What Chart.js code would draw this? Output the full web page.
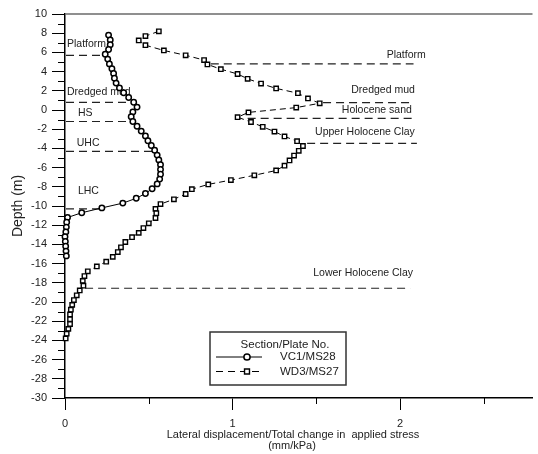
<!DOCTYPE html>
<html><head><meta charset="utf-8">
<script src="https://cdn.jsdelivr.net/npm/chart.js@4.4.0/dist/chart.umd.min.js"></script>
<style>html,body{margin:0;padding:0;background:#fff;overflow:hidden}canvas{display:block}</style>
</head><body>
<canvas id="c" width="538" height="454"></canvas>
<script>
// ---- data ----
const depthVC1 = [7.8,7.3,6.8,6.3,5.8,5.3,4.8,4.3,3.8,3.3,2.8,2.3,1.8,1.3,0.8,0.3,-0.2,-0.7,-1.2,-1.7,-2.2,-2.7,-3.2,-3.7,-4.2,-4.7,-5.2,-5.7,-6.2,-6.7,-7.2,-7.7,-8.2,-8.7,-9.2,-9.7,-10.2,-10.7,-11.2,-11.7,-12.2,-12.7,-13.2,-13.7,-14.2,-14.7,-15.2];
const dispVC1 = [0.26,0.27,0.27,0.26,0.24,0.255,0.265,0.28,0.29,0.295,0.305,0.325,0.35,0.38,0.41,0.43,0.405,0.395,0.405,0.43,0.455,0.48,0.495,0.515,0.535,0.55,0.56,0.57,0.57,0.57,0.565,0.55,0.52,0.48,0.425,0.345,0.22,0.10,0.015,0.01,0.008,0.005,0.0,0.002,0.004,0.006,0.008];
const depthWD3 = [8.2,7.7,7.25,6.75,6.2,5.7,5.2,4.75,4.25,3.75,3.25,2.75,2.25,1.75,1.2,0.7,0.25,-0.25,-0.75,-1.25,-1.75,-2.25,-2.75,-3.25,-3.75,-4.25,-4.75,-5.25,-5.8,-6.3,-6.8,-7.3,-7.75,-8.25,-8.75,-9.3,-9.8,-10.3,-10.75,-11.25,-11.8,-12.3,-12.8,-13.25,-13.75,-14.3,-14.8,-15.3,-15.8,-16.3,-16.8,-17.3,-17.8,-18.3,-18.8,-19.3,-19.8,-20.3,-20.8,-21.3,-21.8,-22.3,-22.8,-23.3,-23.8];
const dispWD3 = [0.56,0.48,0.44,0.48,0.59,0.72,0.83,0.85,0.93,1.03,1.09,1.17,1.26,1.39,1.45,1.52,1.38,1.095,1.03,1.11,1.18,1.25,1.31,1.385,1.42,1.395,1.367,1.34,1.31,1.26,1.13,0.99,0.855,0.757,0.72,0.65,0.57,0.54,0.545,0.54,0.50,0.468,0.44,0.40,0.36,0.334,0.315,0.285,0.246,0.19,0.136,0.116,0.106,0.11,0.088,0.07,0.053,0.043,0.035,0.03,0.03,0.03,0.02,0.01,0.004];
const seriesNames = ['VC1/MS28','WD3/MS27'];
const legendTitle = 'Section/Plate No.';

const yTicks = [-30,-28,-26,-24,-22,-20,-18,-16,-14,-12,-10,-8,-6,-4,-2,0,2,4,6,8,10];
const yMinorTicks = [-29,-27,-25,-23,-21,-19,-17,-15,-13,-11,-9,-7,-5,-3,-1,1,3,5,7,9];
const xTicks = [0,1,2];
const xMinorTicks = [0.5,1.5,2.5];

// soil layer boundaries (depth, x extent) and labels
const leftLayerDepth = [5.7,0.8,-1.2,-4.3,-10.3];
const leftLayerEnd = [0.24,0.41,0.40,0.55,0.21];
const leftLabels = ['Platform','Dredged mud','HS','UHC','LHC'];
const leftLabelDepth = [6.9,1.9,-0.3,-3.4,-8.4];
const leftLabelX = [0.012,0.012,0.077,0.07,0.077];

const rightLayerDepth = [4.8,0.76,-0.87,-3.47,-18.57];
const rightLayerStart = [0.87,1.54,1.09,1.445,0.12];
const rightLayerEnd = [2.08,2.07,2.07,2.1,2.06];
const rightLabels = ['Platform','Dredged mud','Holocene sand','Upper Holocene Clay','Lower Holocene Clay'];
const rightLabelDepth = [5.73,2.08,0.0,-2.26,-16.98];
const rightLabelX = [2.153,2.088,2.07,2.088,2.077];

const xTitle = ['Lateral displacement/Total change in  applied stress','(mm/kPa)'];
const yTitle = 'Depth (m)';

const FONT = '"Liberation Sans", Arial, Helvetica, sans-serif';

const pts = (xs, ys) => xs.map((v,i)=>({x:v, y:ys[i]}));

const annot = {
  id:'annot',
  beforeDatasetsDraw(chart){
    const {ctx, scales:{x,y}, chartArea:ca} = chart;
    ctx.save();
    // top frame line
    ctx.strokeStyle='#6a6a6a'; ctx.lineWidth=1.6;
    ctx.beginPath(); ctx.moveTo(ca.left, ca.top); ctx.lineTo(ca.right, ca.top); ctx.stroke();
    // minor ticks
    ctx.strokeStyle='#000'; ctx.lineWidth=1;
    yMinorTicks.forEach(v=>{const py=Math.round(y.getPixelForValue(v))+0.5; ctx.beginPath(); ctx.moveTo(ca.left-7,py); ctx.lineTo(ca.left,py); ctx.stroke();});
    xMinorTicks.forEach(v=>{const px=Math.round(x.getPixelForValue(v))+0.5; ctx.beginPath(); ctx.moveTo(px,ca.bottom); ctx.lineTo(px,ca.bottom+6); ctx.stroke();});
    // layer lines
    ctx.setLineDash([8,5]); ctx.strokeStyle='#222'; ctx.lineWidth=1.2;
    leftLayerDepth.forEach((d,i)=>{const py=y.getPixelForValue(d); ctx.beginPath(); ctx.moveTo(x.getPixelForValue(0)+1,py); ctx.lineTo(x.getPixelForValue(leftLayerEnd[i]),py); ctx.stroke();});
    rightLayerDepth.forEach((d,i)=>{const py=y.getPixelForValue(d); ctx.beginPath(); ctx.moveTo(x.getPixelForValue(rightLayerStart[i]),py); ctx.lineTo(x.getPixelForValue(rightLayerEnd[i]),py); ctx.stroke();});
    ctx.setLineDash([]);
    // labels
    ctx.font='10.5px '+FONT; ctx.fillStyle='#222'; ctx.textBaseline='middle';
    ctx.textAlign='left';
    leftLabels.forEach((t,i)=>ctx.fillText(t, x.getPixelForValue(leftLabelX[i]), y.getPixelForValue(leftLabelDepth[i])));
    ctx.textAlign='right';
    rightLabels.forEach((t,i)=>ctx.fillText(t, x.getPixelForValue(rightLabelX[i]), y.getPixelForValue(rightLabelDepth[i])));
    // axis titles
    ctx.textAlign='center';
    ctx.font='11px '+FONT;
    ctx.fillText(xTitle[0], 293, 435);
    ctx.fillText(xTitle[1], 292, 446);
    ctx.save();
    ctx.translate(18, (ca.top+ca.bottom)/2);
    ctx.rotate(-Math.PI/2);
    ctx.font='14px '+FONT;
    ctx.fillText(yTitle, 0, 0);
    ctx.restore();
    ctx.restore();
  },
  afterDraw(chart){
    const {ctx} = chart;
    ctx.save();
    const bx=210, by=332, bw=136, bh=53;
    ctx.fillStyle='#fff'; ctx.fillRect(bx,by,bw,bh);
    ctx.strokeStyle='#333'; ctx.lineWidth=1.5; ctx.strokeRect(bx,by,bw,bh);
    ctx.fillStyle='#222'; ctx.font='11.5px '+FONT; ctx.textBaseline='middle';
    ctx.textAlign='center'; ctx.fillText(legendTitle, 285, 345);
    const rows=[357,371.5];
    chart.data.datasets.forEach((ds,i)=>{
      const ry=rows[i];
      ctx.strokeStyle=ds.borderColor; ctx.lineWidth=ds.borderWidth;
      ctx.setLineDash(i===1?[7,5]:[]);
      ctx.beginPath(); ctx.moveTo(216,ry); ctx.lineTo(262,ry); ctx.stroke();
      ctx.setLineDash([]);
      ctx.fillStyle=ds.pointBackgroundColor; ctx.strokeStyle=ds.pointBorderColor; ctx.lineWidth=ds.pointBorderWidth;
      Chart.helpers.drawPoint(ctx,{pointStyle:ds.pointStyle, radius:ds.pointRadius+0.4, rotation:0, borderWidth:ds.pointBorderWidth}, 247, ry);
      ctx.fillStyle='#222'; ctx.textAlign='left';
      ctx.fillText(ds.label, 280, ry);
    });
    ctx.restore();
  }
};

new Chart(document.getElementById('c'), {
  type:'line',
  data:{datasets:[
    {label:seriesNames[0], data:pts(dispVC1, depthVC1), borderColor:'#000', borderWidth:1, pointStyle:'circle', pointRadius:2.7, pointBorderWidth:1.5, pointBackgroundColor:'#fff', pointBorderColor:'#000', tension:0, clip:false},
    {label:seriesNames[1], data:pts(dispWD3, depthWD3), borderColor:'#000', borderWidth:1, borderDash:[6,4], pointStyle:'rect', pointRadius:3.1, pointBorderWidth:1.4, pointBackgroundColor:'#fff', pointBorderColor:'#000', tension:0, clip:false}
  ]},
  options:{
    responsive:false, animation:false, devicePixelRatio:1,
    layout:{padding:{top:14,right:0,bottom:0,left:0}},
    plugins:{legend:{display:false}, tooltip:{enabled:false}},
    scales:{
      x:{type:'linear', min:0, max:2.79,
        afterBuildTicks:s=>{s.ticks=xTicks.map(v=>({value:v}));},
        afterFit:s=>{s.height=56;},
        grid:{drawOnChartArea:false, drawTicks:true, tickLength:12, tickColor:'#000', tickWidth:1},
        border:{display:true, color:'#000', width:1.5},
        ticks:{color:'#222', padding:7, maxRotation:0, font:{size:11, family:FONT}, callback:v=>String(v)}
      },
      y:{type:'linear', min:-30, max:10,
        afterBuildTicks:s=>{s.ticks=yTicks.map(v=>({value:v}));},
        afterFit:s=>{s.width=65;},
        grid:{drawOnChartArea:false, drawTicks:true, tickLength:13, tickColor:'#000', tickWidth:1},
        border:{display:true, color:'#000', width:1.5},
        ticks:{color:'#222', padding:5, font:{size:11, family:FONT}, callback:v=>String(v)}
      }
    }
  },
  plugins:[annot]
});
</script>
</body></html>
